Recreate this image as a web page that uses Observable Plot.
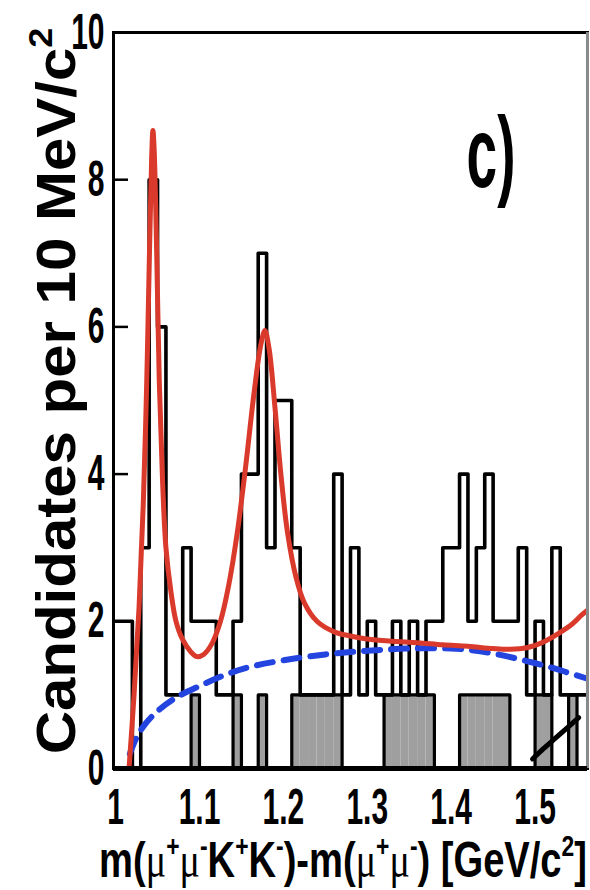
<!DOCTYPE html>
<html>
<head>
<meta charset="utf-8">
<script src="https://cdn.jsdelivr.net/npm/d3@7"></script>
<script src="https://cdn.jsdelivr.net/npm/@observablehq/plot@0.6"></script>
<style>
  html, body { margin: 0; padding: 0; background: #fff; }
  #chart { width: 590px; height: 890px; }
</style>
</head>
<body>
<div id="chart"></div>
<script>
// ---------- data ----------
const binLow = [1.00,1.01,1.02,1.03,1.04,1.05,1.06,1.07,1.08,1.09,
                1.10,1.11,1.12,1.13,1.14,1.15,1.16,1.17,1.18,1.19,
                1.20,1.21,1.22,1.23,1.24,1.25,1.26,1.27,1.28,1.29,
                1.30,1.31,1.32,1.33,1.34,1.35,1.36,1.37,1.38,1.39,
                1.40,1.41,1.42,1.43,1.44,1.45,1.46,1.47,1.48,1.49,
                1.50,1.51,1.52,1.53,1.54,1.55,1.56];
const binWidth = 0.01;
// candidates per bin
const counts   = [2,2,0,3,8,6,1,1,3,2,
                  2,2,1,1,2,4,4,7,3,5,
                  5,3,1,1,1,1,4,1,3,1,
                  2,1,1,2,1,2,1,2,2,3,
                  3,4,2,3,4,2,2,2,3,1,
                  2,1,3,1,1,1,1];
// shaded (sideband) histogram
const sideband = [0,0,0,0,0,0,0,0,0,1,
                  0,0,0,0,1,0,0,1,0,0,
                  0,1,1,1,1,1,1,0,0,0,
                  0,0,1,1,1,1,1,1,0,0,
                  0,1,1,1,1,1,1,0,0,0,
                  1,1,0,0,1,0,0];
// total fit (red)
const fitTotalX = [1.016,1.022,1.028,1.033,1.037,1.040,1.043,1.0445,1.046,1.049,1.052,1.056,1.060,1.066,1.072,1.080,1.090,1.097,1.105,1.115,1.125,1.135,1.145,1.155,1.165,1.173,1.178,1.183,1.190,1.197,1.205,1.215,1.225,1.240,1.260,1.280,1.300,1.330,1.360,1.390,1.420,1.450,1.470,1.490,1.510,1.530,1.545,1.555,1.5625];
const fitTotalY = [0,1.0,2.2,3.6,5.2,6.8,8.3,8.67,8.4,7.0,5.3,3.9,3.0,2.4,2.0,1.75,1.58,1.52,1.55,1.7,2.0,2.5,3.2,4.1,5.1,5.75,5.95,5.7,4.9,4.0,3.2,2.6,2.25,2.0,1.86,1.8,1.76,1.73,1.71,1.68,1.66,1.63,1.62,1.64,1.72,1.85,1.97,2.08,2.15];
// background fit (blue dashed)
const fitBkgX = [1.017,1.025,1.035,1.05,1.07,1.10,1.13,1.16,1.20,1.25,1.30,1.35,1.40,1.43,1.46,1.49,1.52,1.54,1.5625];
const fitBkgY = [0.2,0.42,0.6,0.78,0.95,1.12,1.27,1.38,1.47,1.55,1.6,1.63,1.63,1.6,1.54,1.46,1.37,1.3,1.22];
// extra component (black, bottom right)
const fitOtherX = [1.497,1.51,1.525,1.54,1.552];
const fitOtherY = [0.13,0.27,0.42,0.57,0.69];

const yTicks = [0,2,4,6,8,10];
const xTicks = [1,1.1,1.2,1.3,1.4,1.5];
const xTickText = ["1","1.1","1.2","1.3","1.4","1.5"];
const panelLabel = "c)";
const yLabelParts = [["Candidates per 10 MeV/c",""],["2","sup"]];
const xLabelParts = [["m(",""],["\u03bc","mu"],["+","sup"],["\u03bc","mu"],["-","sup"],["K",""],["+","sup"],["K",""],["-","sup"],[")-m(",""],["\u03bc","mu"],["+","sup"],["\u03bc","mu"],["-","sup"],[") [GeV/c",""],["2","sup"],["]",""]];

const xDomain = [0.9975, 1.5625];
const yDomain = [0, 10];

// ---------- tables built from the arrays ----------
const rows = binLow.map((x0, i) => ({x1: x0, x2: x0 + binWidth, n: counts[i], s: sideband[i]}));
const steps = (vals) => binLow.map((x0, i) => ({x: x0, y: vals[i]}))
  .concat([{x: binLow[binLow.length - 1] + binWidth, y: vals[vals.length - 1]}]);
const curve = (xs, ys) => xs.map((x, i) => ({x, y: ys[i]}));
const join = (parts) => parts.map(p => p[0]).join("");
const xLabelText = join(xLabelParts);
const yLabelText = join(yLabelParts);

const FONT = "'Liberation Sans', Arial, Helvetica, sans-serif";
const XLF = 50, YLF = 60;

const chart = Plot.plot({
  width: 590, height: 890,
  marginLeft: 113, marginRight: 3, marginTop: 32, marginBottom: 122,
  x: {domain: xDomain, axis: null},
  y: {domain: yDomain, axis: null},
  style: {fontFamily: FONT, background: "#fff", color: "#000", overflow: "visible"},
  marks: [
    Plot.rectY(rows, {x1: "x1", x2: "x2", y: "s", fill: "#9f9f9f", clip: true}),
    Plot.line(steps(sideband), {x: "x", y: "y", curve: "step-after", stroke: "#000", strokeWidth: 3.2, clip: true}),
    Plot.line(steps(counts), {x: "x", y: "y", curve: "step-after", stroke: "#000", strokeWidth: 3.6, clip: true}),
    Plot.line(curve(fitBkgX, fitBkgY), {x: "x", y: "y", curve: "catmull-rom", stroke: "#2444e0", strokeWidth: 6, strokeDasharray: "16,11", clip: true}),
    Plot.line(curve(fitTotalX, fitTotalY), {x: "x", y: "y", curve: "catmull-rom", stroke: "#d93a2b", strokeWidth: 5, clip: true}),
    Plot.line(curve(fitOtherX, fitOtherY), {x: "x", y: "y", curve: "catmull-rom", stroke: "#000", strokeWidth: 5, clip: true}),
    Plot.frame({stroke: "#000", strokeWidth: 3}),
    Plot.ruleX([xDomain[1]], {stroke: "#8a8a8a", strokeWidth: 3}),
    Plot.ruleY([0], {stroke: "#000", strokeWidth: 5}),
    Plot.ruleY(yTicks, {stroke: "#000", strokeWidth: 2.5, insetRight: 459}),
    Plot.axisY(yTicks, {anchor: "left", tickSize: 0, tickPadding: 9, fontSize: 50, fontWeight: "bold", tickFormat: d => String(d)}),
    Plot.axisX(xTicks, {anchor: "bottom", tickSize: 0, tickPadding: 20, fontSize: 50, fontWeight: "bold", tickFormat: (d, i) => xTickText[i]}),
    Plot.text([panelLabel], {frameAnchor: "top-right", dx: -72, dy: 83, textAnchor: "end", fontSize: 100, fontWeight: "bold"}),
    Plot.text([xLabelText], {frameAnchor: "bottom-right", dx: 0, dy: 95, textAnchor: "end", fontSize: XLF, fontWeight: "bold"}),
    Plot.text([yLabelText], {frameAnchor: "left", textAnchor: "middle", dx: -60, fontSize: YLF, fontWeight: "bold"})
  ]
});
document.getElementById("chart").appendChild(chart);
const svg = chart.tagName.toLowerCase() === "svg" ? chart : chart.querySelector("svg");

const allTexts = Array.from(svg.querySelectorAll("text"));
const findText = (s) => allTexts.find(t => t.textContent === s);

// rich text: superscripts and mu
function richify(textEl, parts, F) {
  if (!textEl) return;
  while (textEl.firstChild) textEl.removeChild(textEl.firstChild);
  let shifted = false;
  const up = 0.42 * F;
  parts.forEach(([s, kind]) => {
    const ts = document.createElementNS("http://www.w3.org/2000/svg", "tspan");
    ts.textContent = s;
    if (kind === "sup") {
      ts.setAttribute("font-size", (0.6 * F) + "px");
      if (!shifted) { ts.setAttribute("dy", (-up) + "px"); shifted = true; }
    } else {
      if (shifted) { ts.setAttribute("dy", up + "px"); shifted = false; }
      if (kind === "mu") {
        ts.setAttribute("font-weight", "normal");
        ts.setAttribute("font-family", "'Liberation Serif', 'DejaVu Serif', serif");
      }
    }
    textEl.appendChild(ts);
  });
}

function toParent(el, x, y) {
  const p = svg.createSVGPoint(); p.x = x; p.y = y;
  const sp = p.matrixTransform(svg.getScreenCTM());
  return sp.matrixTransform(el.parentNode.getScreenCTM().inverse());
}

// the original figure is condensed horizontally
function condense(el, f) {
  if (!el) return;
  const w = el.getComputedTextLength();
  el.setAttribute("textLength", w * f);
  el.setAttribute("lengthAdjust", "spacingAndGlyphs");
}
function squeeze(el, sx) {
  if (!el) return;
  const r = el.getBoundingClientRect();
  const anchor = getComputedStyle(el).textAnchor;
  const axScreen = anchor === "end" ? r.right : anchor === "middle" ? (r.left + r.right) / 2 : r.left;
  const p = svg.createSVGPoint(); p.x = axScreen; p.y = 0;
  const lp = p.matrixTransform(el.parentNode.getScreenCTM().inverse());
  const g = document.createElementNS("http://www.w3.org/2000/svg", "g");
  g.setAttribute("transform", `translate(${lp.x},0) scale(${sx},1) translate(${-lp.x},0)`);
  el.parentNode.insertBefore(g, el);
  g.appendChild(el);
}

const yTickEls = yTicks.map(v => findText(String(v)));
const xTickEls = xTickText.map(s => findText(s));
const panelEl = findText(panelLabel);
const xl = findText(xLabelText);
const yl = findText(yLabelText);

richify(xl, xLabelParts, XLF);
richify(yl, yLabelParts, YLF);

yTickEls.forEach(t => condense(t, 0.6));
xTickEls.forEach(t => condense(t, 0.6));
condense(panelEl, 0.55);
if (xl) {
  // baseline of the x title near y = 877, right end at the frame edge
  const q = toParent(xl, 587, 877);
  xl.removeAttribute("x"); xl.removeAttribute("y"); xl.removeAttribute("dy");
  xl.setAttribute("transform", `translate(${q.x},${q.y})`);
  xl.setAttribute("text-anchor", "end");
  squeeze(xl, 488 / xl.getBoundingClientRect().width);
}
if (yl) {
  // vertical title: baseline at x = 75, centred at y = 391
  const q = toParent(yl, 75, 391);
  yl.removeAttribute("x"); yl.removeAttribute("y"); yl.removeAttribute("dy");
  yl.setAttribute("text-anchor", "middle");
  yl.setAttribute("transform", `translate(${q.x},${q.y}) rotate(-90) scale(1,0.92)`);
}
</script>
</body>
</html>
